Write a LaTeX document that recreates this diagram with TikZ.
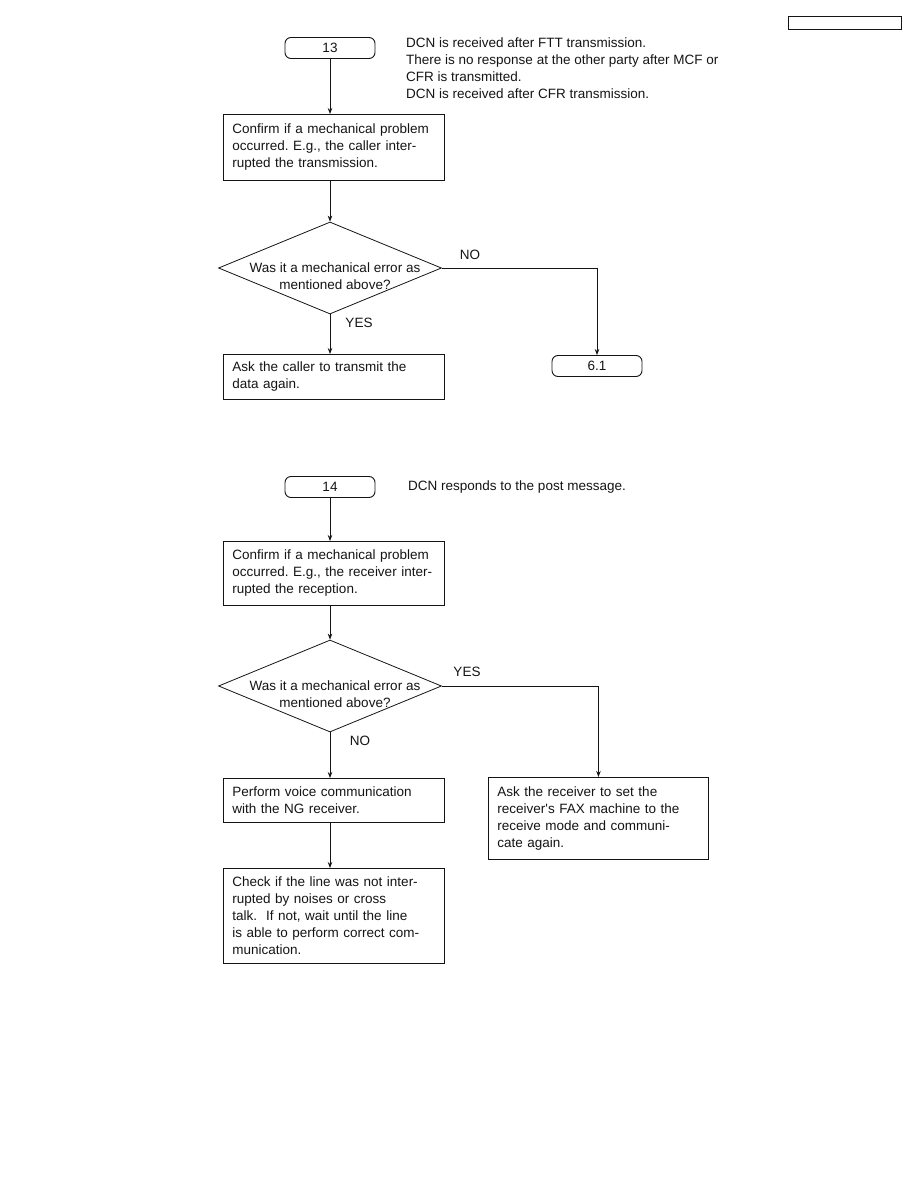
\documentclass[tikz,border=0pt]{standalone}
\usepackage{fontspec}
\setmainfont{Liberation Sans}
\usetikzlibrary{positioning,arrows.meta,shapes.geometric}
\definecolor{ink}{RGB}{20,20,20}
\frenchspacing

\begin{document}
\begin{tikzpicture}[x=1pt,y=1pt,font=\fontsize{13.5pt}{17pt}\selectfont,text=ink,
  term/.style={rectangle,rounded corners=6pt,draw=ink,line width=0.9pt,minimum width=90pt,minimum height=21pt,inner sep=0pt},
  box/.style={rectangle,draw=ink,line width=0.9pt,anchor=north west,text width=203pt,inner xsep=9pt,inner ysep=0pt,align=left},
  dec/.style={diamond,draw=ink,line width=0.8pt,minimum width=223pt,minimum height=92pt,inner sep=0pt},
  dtxt/.style={align=center,inner sep=0pt},
  note/.style={anchor=north west,align=left,inner sep=0pt},
  lbl/.style={inner sep=0pt},
  ar/.style={-{Stealth[length=6pt,width=4.5pt]},ink,line width=0.8pt}]
  \useasboundingbox (0,0) rectangle (918,-1188);
  \draw[ink,line width=1pt] (788,-17) rectangle (901,-30);
  % chart 13
  \node[term](t13) at (330,-48){13};
  \node[note](n13) at (406,-38){DCN is received after FTT transmission.\\There is no response at the other party after MCF or\\CFR is transmitted.\\DCN is received after CFR transmission.};
  \node[box,minimum height=66pt](c13) at (223,-114){Confirm if a mechanical problem\\occurred. E.g., the caller inter-\\rupted the transmission.};
  \node[dec](q13) at (330,-268){};
  \node[dtxt](q13t) at ([xshift=5pt,yshift=-8pt]q13.center){Was it a mechanical error as\\mentioned above?};
  \node[box,minimum height=45pt](a13) at (223,-354){Ask the caller to transmit the\\data again.};
  \node[term](t61) at (597,-366){6.1};
  \node[lbl](no13) at (470,-255){NO};
  \node[lbl](yes13) at (359,-323){YES};
  \draw[ar](t13)--(t13|-c13.north);\draw[ar](t13|-c13.south)--(q13);\draw[ar](q13)--(q13|-a13.north);
  \draw[ar](q13.east)-|(t61.north);
  % chart 14
  \node[term](t14) at (330,-487){14};
  \node[note,anchor=west](n14) at (408,-487){DCN responds to the post message.};
  \node[box,minimum height=64pt](c14) at (223,-541){Confirm if a mechanical problem\\occurred. E.g., the receiver inter-\\rupted the reception.};
  \node[dec](q14) at (330,-686){};
  \node[dtxt](q14t) at ([xshift=5pt,yshift=-8pt]q14.center){Was it a mechanical error as\\mentioned above?};
  \node[box,minimum height=44pt](v14) at (223,-778){Perform voice communication\\with the NG receiver.};
  \node[box,minimum height=95pt](k14) at (223,-868){Check if the line was not inter-\\rupted by noises or cross\\talk.\ \ If not, wait until the line\\is able to perform correct com-\\munication.};
  \node[box,minimum height=82pt,text width=202pt](r14) at (488,-777){Ask the receiver to set the\\receiver\textquotesingle s FAX machine to the\\receive mode and communi-\\cate again.};
  \node[lbl](yes14) at (467,-672){YES};
  \node[lbl](no14) at (360,-741){NO};
  \draw[ar](t14)--(t14|-c14.north);\draw[ar](t14|-c14.south)--(q14);\draw[ar](q14)--(q14|-v14.north);
  \draw[ar](q14|-v14.south)--(q14|-k14.north);
  \draw[ar](q14.east)-|(r14.north);
\end{tikzpicture}
\end{document}
